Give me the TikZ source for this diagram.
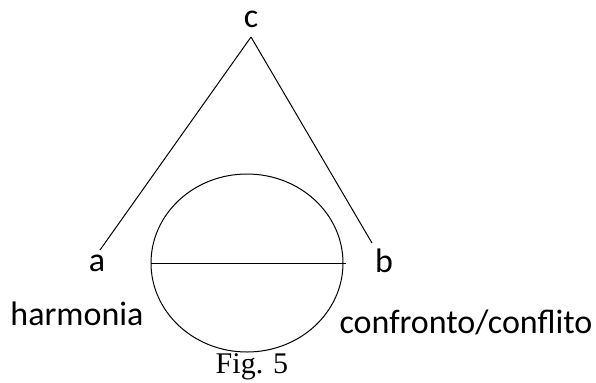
\documentclass[tikz,border=0pt]{standalone}
\usepackage{fontspec}
\setmainfont{Carlito}
\newfontfamily\figfont{Liberation Serif}
\usetikzlibrary{shapes.geometric}

\begin{document}
\begin{tikzpicture}[x=0.5pt, y=-0.5pt, line width=0.5pt,
    lbl/.style={anchor=base, inner sep=0pt, font=\fontsize{17}{20}\selectfont}]
    \useasboundingbox (0, 0) rectangle (596, 382);
    \node[lbl] (c) at (251, 27) {c};
    \node[lbl] (a) at (97, 271) {a};
    \node[lbl] (b) at (384, 272) {b};
    \node[lbl] (harm) at (77, 325) {harmonia};
    \node[lbl] (conf) at (466, 333) {confronto/conflito};
    \node[anchor=base, inner sep=0pt, font=\figfont\fontsize{15}{18}\selectfont] (fig) at (252, 373) {Fig. 5};
    \coordinate (top) at (251, 37);
    \coordinate (aend) at (100, 250);
    \coordinate (bend) at (372, 243);
    \node[draw, ellipse, inner sep=0pt, minimum width=96pt, minimum height=89pt] (ell) at (247, 263) {};
    \draw (top) to (aend);
    \draw (top) to (bend);
    \draw (ell.west) to ([xshift=1pt]ell.east);
\end{tikzpicture}
\end{document}
